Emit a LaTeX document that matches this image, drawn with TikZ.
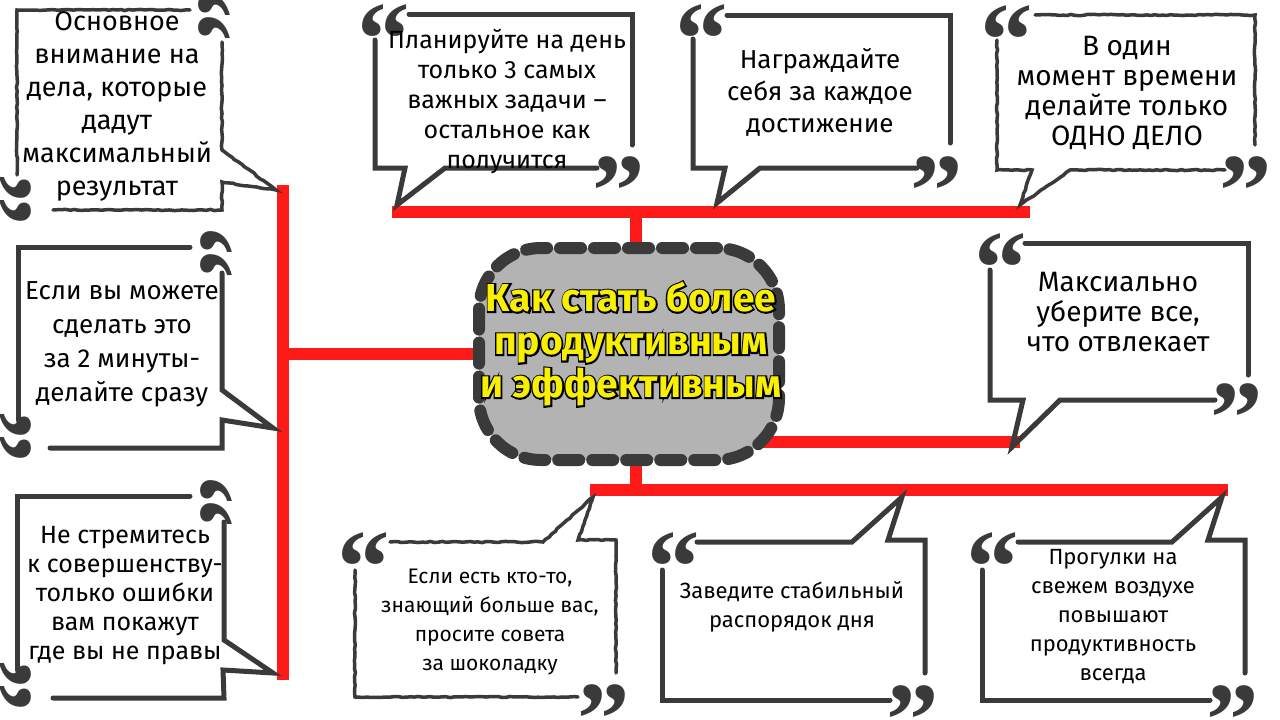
\documentclass[tikz,border=0pt]{standalone}
\usepackage{fontspec}
\setmainfont{Fira Sans}
\newfontfamily\qfont{Liberation Serif}
\newfontfamily\titleK{Fira Sans}[FakeBold=8]
\usetikzlibrary{decorations.pathmorphing}
\definecolor{bubgray}{HTML}{3A3A3A}
\definecolor{linkred}{HTML}{FF1A1A}
\definecolor{nodegray}{HTML}{B3B3B3}
\definecolor{titleyellow}{HTML}{F8F000}
\newcommand\titlelines{Как стать более\\продуктивным\\и эффективным}
\tikzset{
  bub/.style={draw=bubgray, line width=5pt, line cap=round, line join=miter},
  bubrough/.style={draw=bubgray, line width=3.5pt, line cap=round, line join=miter,
    decorate, decoration={random steps, segment length=4pt, amplitude=0.6pt}},
  link/.style={draw=linkred, line width=12pt},
  qm/.style={text=bubgray, font=\qfont\bfseries\fontsize{105}{105}\selectfont, inner sep=0pt, anchor=base},
  txt/.style={align=center, text=black, inner sep=0pt},
}
\begin{document}
\begin{tikzpicture}[x=1pt,y=-1pt]
\useasboundingbox[fill=white] (0,0) rectangle (1280,720);

% ---------- red connectors ----------
\coordinate (lt) at (283,185);
\coordinate (lb) at (283,680);
\coordinate (jl) at (283,354);
\coordinate (tl) at (392,212);
\coordinate (tr) at (1030,212);
\coordinate (jt) at (636,212);
\coordinate (rl) at (760,442);
\coordinate (rr) at (1020,442);
\coordinate (bl) at (590,490);
\coordinate (br) at (1228,490);
\coordinate (jb) at (636,490);

\node[minimum width=300pt, minimum height=212pt, inner sep=0pt] (c) at (629,354) {};

\draw[link] (lt) -- (lb);
\draw[link] (jl) -- (jl -| c.west);
\draw[link] (tl) -- (tr);
\draw[link] (jt) -- (jt |- c.north);
\draw[link] (rl) -- (rr);
\draw[link] (bl) -- (br);
\draw[link] (jb) -- (jb |- c.south);

% ---------- central node ----------
\node[draw=bubgray, fill=nodegray, line width=12pt, rounded corners=62pt,
      dash pattern=on 21pt off 13pt, line cap=round,
      minimum width=300pt, minimum height=212pt, inner sep=0pt] (center) at (629,354) {};
\node[inner sep=0pt, font=\fontsize{39}{43}\selectfont, align=center] (title) at (631,346)
  {\rlap{\titleK\bfseries\color{black}\begin{tabular}{@{}c@{}}\titlelines\end{tabular}}%
   {\bfseries\color{titleyellow}\begin{tabular}{@{}c@{}}\titlelines\end{tabular}}};

% ---------- bubble 1 (top left, rough) ----------
\draw[bubrough] (17,175) -- (17,10) -- (190,10);
\draw[bubrough] (222,42) -- (222,150) -- (276,190) -- (222,182) -- (222,210) -- (53,210);
\node[qm, rotate=-90] (q1a) at (160,16) {“};
\node[qm, rotate=-90] (q1b) at (-38,200) {”};
\node[txt, font=\fontsize{27}{33}\selectfont] (t1) at (117,106) {Основное\\внимание на\\дела, которые\\дадут\\максимальный\\результат};

% ---------- bubble 2 ----------
\draw[bub] (409,14) -- (632,14) -- (632,145);
\draw[bub] (597,168) -- (445,168) -- (397,205) -- (405,168) -- (375,168) -- (375,40);
\node[qm] (q2a) at (384,74) {“};
\node[qm] (q2b) at (619,226) {”};
\node[txt, font=\fontsize{25}{30}\selectfont] (t2) at (507,101) {Планируйте на день\\только 3 самых\\важных задачи –\\остальное как\\получится};

% ---------- bubble 3 ----------
\draw[bub] (727,15) -- (950,15) -- (950,143);
\draw[bub] (917,168) -- (760,168) -- (717,203) -- (725,168) -- (693,168) -- (693,39);
\node[qm] (q3a) at (702,74) {“};
\node[qm] (q3b) at (937,226) {”};
\node[txt, font=\fontsize{26}{32}\selectfont] (t3) at (820,92) {Награждайте\\себя за каждое\\достижение};

% ---------- bubble 4 (rough) ----------
\draw[bubrough] (1035,15) -- (1255,15) -- (1255,145);
\draw[bubrough] (1225,170) -- (1070,170) -- (1020,205) -- (1032,170) -- (997,170) -- (997,40);
\node[qm] (q4a) at (1007,75) {“};
\node[qm] (q4b) at (1246,226) {”};
\node[txt, font=\fontsize{28}{30}\selectfont] (t4) at (1127,93) {В один\\момент времени\\делайте только\\ОДНО ДЕЛО};

% ---------- bubble 5 ----------
\draw[bub] (1025,243) -- (1248,243) -- (1248,375);
\draw[bub] (1215,400) -- (1060,400) -- (1012,447) -- (1023,400) -- (990,400) -- (990,270);
\node[qm] (q5a) at (1001,303) {“};
\node[qm] (q5b) at (1237,453) {”};
\node[txt, font=\fontsize{28}{30}\selectfont] (t5) at (1118,312) {Максиально\\уберите все,\\что отвлекает};

% ---------- bubble 6 ----------
\draw[bub] (18,420) -- (18,247) -- (190,247);
\draw[bub] (222,273) -- (222,390) -- (273,428) -- (222,420) -- (222,448) -- (50,448);
\node[qm, rotate=-90] (q6a) at (162,253) {“};
\node[qm, rotate=-90] (q6b) at (-38,437) {”};
\node[txt, font=\fontsize{26}{34}\selectfont] (t6) at (122,344) {Если вы можете\\сделать это\\за 2 минуты-\\делайте сразу};

% ---------- bubble 7 ----------
\draw[bub] (17,670) -- (17,496) -- (190,496);
\draw[bub] (224,522) -- (224,640) -- (273,673) -- (223,670) -- (224,698) -- (53,698);
\node[qm, rotate=-90] (q7a) at (162,502) {“};
\node[qm, rotate=-90] (q7b) at (-38,686) {”};
\node[txt, font=\fontsize{25}{29}\selectfont] (t7) at (125,596) {Не стремитесь\\к совершенству-\\только ошибки\\вам покажут\\где вы не правы};

% ---------- bubble 8 (rough) ----------
\draw[bubrough] (390,542) -- (543,542) -- (593,497) -- (578,540) -- (616,540) -- (616,673);
\draw[bubrough] (578,697) -- (355,697) -- (355,570);
\node[qm] (q8a) at (364,602) {“};
\node[qm] (q8b) at (604,754) {”};
\node[txt, font=\fontsize{21}{29}\selectfont] (t8) at (490,622) {Если есть кто-то,\\знающий больше вас,\\просите совета\\за шоколадку};

% ---------- bubble 9 ----------
\draw[bub] (697,542) -- (852,542) -- (902,497) -- (888,540) -- (925,540) -- (925,673);
\draw[bub] (890,700) -- (662,700) -- (662,570);
\node[qm] (q9a) at (674,602) {“};
\node[qm] (q9b) at (913,755) {”};
\node[txt, font=\fontsize{22}{29}\selectfont] (t9) at (792,607) {Заведите стабильный\\распорядок дня};

% ---------- bubble 10 ----------
\draw[bub] (1018,542) -- (1172,542) -- (1222,497) -- (1208,540) -- (1245,540) -- (1245,673);
\draw[bub] (1210,700) -- (982,700) -- (982,570);
\node[qm] (q10a) at (993,602) {“};
\node[qm] (q10b) at (1233,755) {”};
\node[txt, font=\fontsize{22}{29}\selectfont] (t10) at (1113,617) {Прогулки на\\свежем воздухе\\повышают\\продуктивность\\всегда};
\end{tikzpicture}
\end{document}
